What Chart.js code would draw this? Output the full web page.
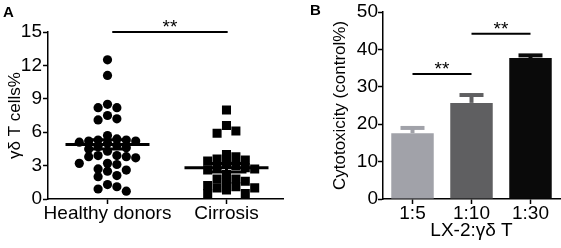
<!DOCTYPE html>
<html>
<head>
<meta charset="utf-8">
<script src="https://cdn.jsdelivr.net/npm/chart.js@4"></script>
<style>
  body { margin: 0; background: #fff; }
  .panel { position: absolute; top: 0; }
</style>
</head>
<body>
<div class="panel" style="left:0"><canvas id="chartA" width="290" height="248"></canvas></div>
<div class="panel" style="left:290px"><canvas id="chartB" width="271" height="248"></canvas></div>
<script>
// panel A: yd T cells% per donor
const groupsA = ['Healthy donors', 'Cirrosis'];
const healthy = [12.5, 11.1, 8.5, 8.2, 8.2, 7.5, 7.2, 7.1, 5.7, 5.4, 5.3, 5.3, 5.2, 5.2, 5.1, 5.0,
    4.8, 4.7, 4.6, 4.5, 4.3, 3.9, 3.9, 3.8, 3.8, 3.7, 3.2, 3.2, 3.1, 2.7, 2.6, 2.5, 2.1, 2.0,
    1.3, 1.1, 0.9, 0.7];
const cirrosis = [8.0, 6.6, 6.1, 5.9, 4.0, 3.8, 3.6, 3.5, 3.4, 3.2, 3.0, 2.9, 2.8, 2.7, 2.6, 2.2,
    1.8, 1.8, 1.6, 1.5, 1.2, 1.1, 1.0, 1.0, 0.8, 0.5, 0.5];
const meanA = [4.9, 2.8];
const semA = [0.42, 0.38];
const yTicksA = [0, 3, 6, 9, 12, 15];
const sigA = [{from: 1.04, to: 2.01, y: 15, label: '**'}];

// panel B: cytotoxicity by LX-2:yd T ratio
const ratiosB = ['1:5', '1:10', '1:30'];
const cytotox = [17.6, 25.7, 37.7];
const cytotoxErr = [1.4, 2.1, 0.7];
const yTicksB = [0, 10, 20, 30, 40, 50];
const sigB = [{from: 0, to: 1, y: 33.4, label: '**'}, {from: 1, to: 2, y: 44.2, label: '**'}];

const barColors = ['#a1a2a9', '#5f5f61', '#0a0a0a'];
const FONT = "'Liberation Sans', Arial, sans-serif";

// column beeswarm (max 7 columns), dots may overlap a bit in the dense part
function swarm(values, center) {
    const order = [0, 1, -1, 2, -2, 3, -3];
    const placed = [];
    const gap = (c, v) => Math.min(Infinity, ...placed.filter(p => p.c === c).map(p => Math.abs(p.v - v)));
    return [...values].sort((a, b) => b - a).map(v => {
        let col = order.find(c => gap(c, v) >= 0.7);
        if (col === undefined) {
            col = order.reduce((best, c) => gap(c, v) > gap(best, v) ? c : best, 0);
        }
        placed.push({c: col, v});
        return {x: center + col * 0.079, y: v};
    });
}

function line(ctx, x1, y1, x2, y2) {
    ctx.beginPath();
    ctx.moveTo(x1, y1);
    ctx.lineTo(x2, y2);
    ctx.stroke();
}

function drawSig(chart, list, xPix) {
    const {ctx, scales: {y}} = chart;
    ctx.save();
    ctx.strokeStyle = '#000';
    ctx.fillStyle = '#000';
    ctx.lineWidth = 2;
    ctx.font = '19px ' + FONT;
    ctx.textAlign = 'center';
    ctx.textBaseline = 'alphabetic';
    list.forEach(s => {
        const x1 = xPix(s.from), x2 = xPix(s.to), yy = y.getPixelForValue(s.y);
        line(ctx, x1, yy, x2, yy);
        ctx.fillText(s.label, (x1 + x2) / 2, yy + 1);
    });
    ctx.restore();
}

function axes(ticks, max, tickPad) {
    return {
        min: 0,
        max: max,
        afterBuildTicks: s => { s.ticks = ticks.map(v => ({value: v})); },
        ticks: {color: '#000', padding: tickPad, font: {family: FONT, size: 19, lineHeight: 1}},
        grid: {drawOnChartArea: false, tickLength: 5, tickColor: '#000', tickWidth: 1.5},
        border: {color: '#000', width: 1.5}
    };
}

const overlayA = {
    id: 'overlayA',
    afterDatasetsDraw(chart) {
        const {ctx, scales: {x, y}} = chart;
        ctx.save();
        ctx.strokeStyle = '#000';
        ctx.lineWidth = 3;
        meanA.forEach((m, i) => {
            const cx = x.getPixelForValue(i + 1);
            const my = y.getPixelForValue(m);
            const top = y.getPixelForValue(m + semA[i]);
            const bot = y.getPixelForValue(m - semA[i]);
            line(ctx, cx - 42, my, cx + 42, my);
            line(ctx, cx, top, cx, bot);
            line(ctx, cx - 20, top, cx + 20, top);
            line(ctx, cx - 20, bot, cx + 20, bot);
        });
        ctx.restore();
        drawSig(chart, sigA, v => x.getPixelForValue(v));
        ctx.save();
        ctx.font = 'bold 15px ' + FONT;
        ctx.fillStyle = '#000';
        ctx.fillText('A', 3, 17);
        ctx.restore();
    }
};

const yA = axes(yTicksA, 15, 1);
yA.afterFit = s => { s.width = 48; };
yA.title = {display: true, text: 'γδ T cells%', color: '#000',
    font: {family: FONT, size: 17, lineHeight: 1}, padding: {top: 6.5, bottom: 0}};
const xA = axes([1, 2], 2.48, 0);
xA.type = 'linear';
xA.min = 0.5;
xA.ticks.callback = v => groupsA[v - 1];
xA.afterFit = s => { s.height = 49; };

new Chart(document.getElementById('chartA'), {
    type: 'scatter',
    data: {
        datasets: [
            {data: swarm(healthy, 1), pointStyle: 'circle', pointRadius: 4.6,
                backgroundColor: '#000', borderWidth: 0},
            {data: swarm(cirrosis, 2), pointStyle: 'rect', pointRadius: 6.4,
                backgroundColor: '#000', borderWidth: 0}
        ]
    },
    options: {
        responsive: false,
        animation: false,
        layout: {padding: {top: 32, right: 2, left: 0, bottom: 0}},
        plugins: {legend: {display: false}, tooltip: {enabled: false}},
        scales: {x: xA, y: yA}
    },
    plugins: [overlayA]
});

const overlayB = {
    id: 'overlayB',
    afterDatasetsDraw(chart) {
        const {ctx, scales: {y}} = chart;
        const bars = chart.getDatasetMeta(0).data;
        ctx.save();
        cytotox.forEach((v, i) => {
            const cx = bars[i].x;
            const top = y.getPixelForValue(v + cytotoxErr[i]);
            ctx.strokeStyle = barColors[i];
            ctx.lineWidth = 4;
            line(ctx, cx, bars[i].y, cx, top);
            line(ctx, cx - 12, top, cx + 12, top);
        });
        ctx.restore();
        drawSig(chart, sigB, v => bars[v].x);
        ctx.save();
        ctx.font = 'bold 15px ' + FONT;
        ctx.fillStyle = '#000';
        ctx.fillText('B', 20, 15);
        ctx.restore();
    }
};

const yB = axes(yTicksB, 50, 0);
yB.afterFit = s => { s.width = 93; };
yB.title = {display: true, text: 'Cytotoxicity (control%)', color: '#000',
    font: {family: FONT, size: 17, lineHeight: 1}, padding: {top: 42, bottom: 0}};
const xB = {
    ticks: {color: '#000', padding: 0, font: {family: FONT, size: 19, lineHeight: 1}},
    grid: {drawOnChartArea: false, offset: false, tickLength: 5, tickColor: '#000', tickWidth: 1.5},
    border: {color: '#000', width: 1.5},
    title: {display: true, text: 'LX-2:γδ T', color: '#000',
        font: {family: FONT, size: 19, lineHeight: 1}, padding: {top: 0, bottom: 8}},
    afterFit: s => { s.height = 49; }
};

new Chart(document.getElementById('chartB'), {
    type: 'bar',
    data: {
        labels: ratiosB,
        datasets: [{data: cytotox, backgroundColor: barColors, borderWidth: 0,
            categoryPercentage: 1, barPercentage: 0.72}]
    },
    options: {
        responsive: false,
        animation: false,
        layout: {padding: {top: 12, right: 1, left: 0, bottom: 0}},
        plugins: {legend: {display: false}, tooltip: {enabled: false}},
        scales: {x: xB, y: yB}
    },
    plugins: [overlayB]
});
</script>
</body>
</html>
